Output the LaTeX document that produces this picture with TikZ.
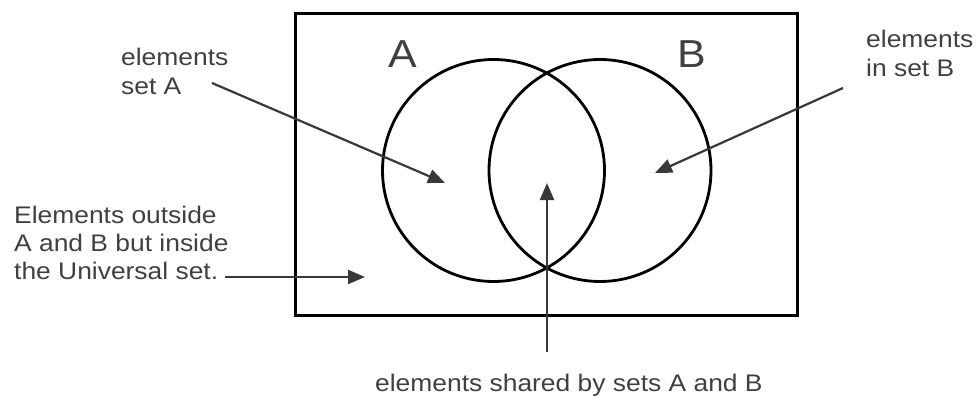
\documentclass[tikz,border=0pt]{standalone}
\usepackage{fontspec}
\setmainfont{Liberation Sans}[FakeStretch=1.1]
\usetikzlibrary{arrows.meta}
\definecolor{txt}{HTML}{404040}
\definecolor{arr}{HTML}{383838}
\tikzset{
  setcircle/.style={circle, draw=black, line width=2.8pt, minimum size=222pt, inner sep=0pt},
  universe/.style={draw=black, line width=3pt, inner sep=0pt},
  lbl/.style={text=txt, inner sep=0pt, align=left, anchor=north west, font=\fontsize{24}{29}\selectfont},
  setname/.style={text=txt, inner sep=0pt, anchor=base west, font=\fontsize{39}{39}\selectfont},
  pointer/.style={draw=arr, line width=2.2pt, -{Triangle[length=17pt,width=14pt]}}
}
\begin{document}
\begin{tikzpicture}[x=1pt,y=-1pt]
\useasboundingbox (0,0) rectangle (977,396);
\node[universe, minimum width=502pt, minimum height=301pt] (U) at (546,164.5) {};
\node[setcircle] (A) at (493.5,170.5) {};
\node[setcircle] (B) at (600,170.5) {};
\node[setname] (nA) at (388,67) {A};
\node[setname] (nB) at (677,67) {B};
\node[lbl] (tA) at (121,47.5) {elements\\set A};
\node[lbl] (tB) at (866,29.5) {elements\\in set B};
\node[lbl, font=\fontsize{24}{28.3}\selectfont] (tU) at (14,205.5) {Elements outside\\A and B but inside\\the Universal set.};
\node[text=txt, inner sep=0pt, anchor=base west, font=\fontsize{24}{24}\selectfont] (tS) at (375,391.5) {elements shared by sets A and B};
\coordinate (sA) at (212,83);
\coordinate (eA) at (445,183);
\coordinate (sB) at (843,88);
\coordinate (eB) at (655,173);
\coordinate (sS) at (547,352);
\coordinate (eS) at (547,183);
\coordinate (sU) at (225,277);
\coordinate (eU) at (365,277);
\draw[pointer] (sA) -- (eA);
\draw[pointer] (sB) -- (eB);
\draw[pointer] (sS) -- (eS);
\draw[pointer] (sU) -- (eU);
\end{tikzpicture}
\end{document}
